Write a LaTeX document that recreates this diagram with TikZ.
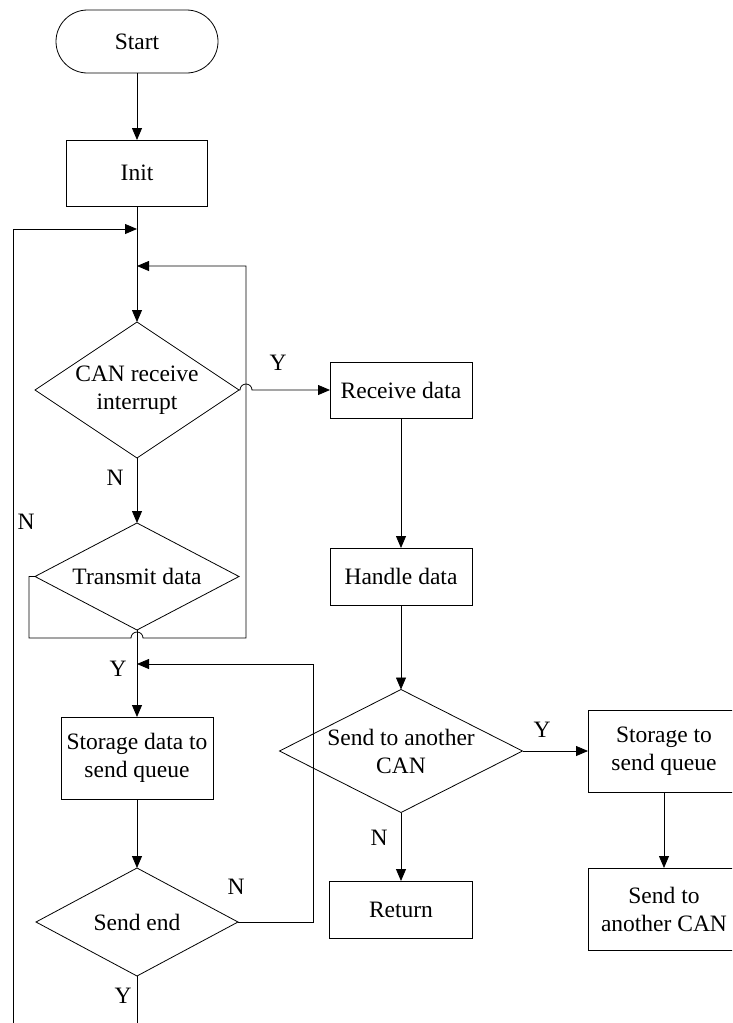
\documentclass[tikz,border=0pt]{standalone}
\usepackage{fontspec}
\setmainfont{Liberation Serif}
\usetikzlibrary{shapes.geometric,arrows.meta}
\begin{document}
\begin{tikzpicture}[x=1pt,y=-1pt,
  every node/.style={font=\fontsize{23.5}{28}\selectfont},
  box/.style={draw, line width=0.8pt, rectangle, inner sep=0pt, outer sep=0pt, align=center},
  dec/.style={draw, line width=0.8pt, diamond, inner sep=0pt, outer sep=0pt},
  lbl/.style={inner sep=0pt, align=center},
  conn/.style={line width=0.8pt},
  arr/.style={conn, -{Triangle[length=12pt,width=10pt]}}]
\clip (0,0) rectangle (732,1023);
% nodes
\node[box, rounded corners=31.5pt, minimum width=162pt, minimum height=63pt] (start) at (137,41.5) {Start};
\node[box, minimum width=141pt, minimum height=66pt] (init) at (137,173) {Init};
\node[dec, minimum width=204pt, minimum height=136pt, label={[lbl]center:CAN receive\\interrupt}] (can) at (137,390) {};
\node[dec, minimum width=204pt, minimum height=107pt, label={[lbl]center:Transmit data}] (trans) at (137,576.5) {};
\node[box, minimum width=152pt, minimum height=82pt] (store1) at (137,758) {Storage data to\\send queue};
\node[dec, minimum width=202pt, minimum height=108pt, label={[lbl]center:Send end}] (sendend) at (137,922) {};
\node[box, minimum width=142pt, minimum height=56pt] (recv) at (401,390) {Receive data};
\node[box, minimum width=142pt, minimum height=57pt] (handle) at (401,576.5) {Handle data};
\node[dec, minimum width=243pt, minimum height=123pt, label={[lbl]center:Send to another\\CAN}] (sendcan) at (401,751) {};
\node[box, minimum width=143pt, minimum height=57pt] (ret) at (401,909.5) {Return};
\node[box, minimum width=152pt, minimum height=82pt] (store2) at (664,751) {Storage to\\send queue};
\node[box, minimum width=152pt, minimum height=82pt] (sendcan2) at (664,909) {Send to\\another CAN};
% labels
\node[lbl] (lY1) at (278,363) {Y};
\node[lbl] (lN1) at (115,478) {N};
\node[lbl] (lN0) at (26,522) {N};
\node[lbl] (lY2) at (118,669) {Y};
\node[lbl] (lN2) at (236,887) {N};
\node[lbl] (lY3) at (123,996) {Y};
\node[lbl] (lY4) at (542,730) {Y};
\node[lbl] (lN3) at (379,838) {N};
% junctions
\coordinate (j1) at (137,229);
\coordinate (j2) at (137,266);
\coordinate (j3) at (137,664);
\coordinate (lb) at (13,1023);
\coordinate (eb) at (137,1023);
% connectors
\draw[arr] (start) -- (init);
\draw[arr] (init) -- (can);
\draw[arr] (lb) |- (j1);
\draw[arr] (can.east) -- (240,390) arc[start angle=180, end angle=360, radius=6] -- (recv.west);
\draw[arr] (can) -- (trans);
\draw[arr] (trans.west) -- (29,576.5) -- (29,638) -- (131,638) arc[start angle=180, end angle=360, radius=6] -- (246,638) -- (246,266) -- (j2);
\draw[arr] (trans) -- (store1);
\draw[arr] (store1) -- (sendend);
\draw[arr] (sendend.east) -| (313,664) -- (j3);
\draw[conn] (sendend.south) -- (eb);
\draw[arr] (recv) -- (handle);
\draw[arr] (handle) -- (sendcan);
\draw[arr] (sendcan.east) -- (store2.west);
\draw[arr] (sendcan) -- (ret);
\draw[arr] (store2) -- (sendcan2);
\end{tikzpicture}
\end{document}
